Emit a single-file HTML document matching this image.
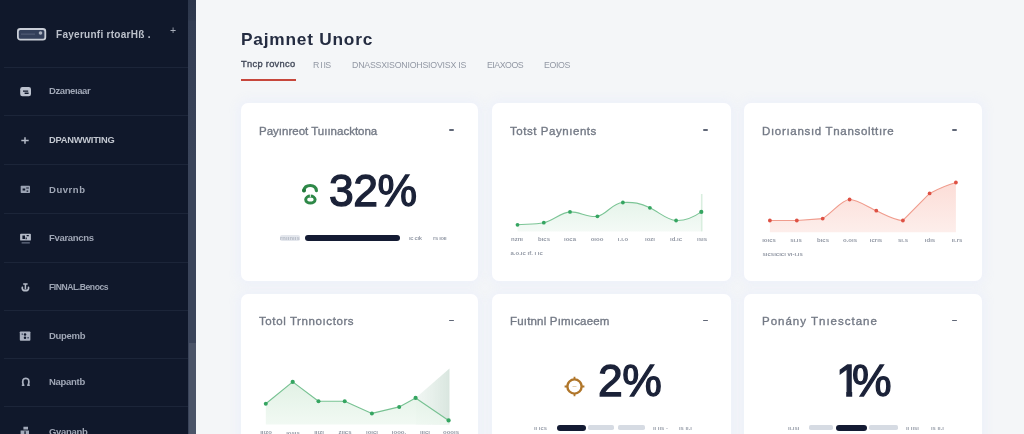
<!DOCTYPE html>
<html lang="en">
<head>
<meta charset="utf-8">
<title>Payment Dashboard</title>
<style>
*{box-sizing:border-box;margin:0;padding:0}
html,body{width:1024px;height:434px;overflow:hidden}
body{position:relative;background:#f4f6f8;font-family:"Liberation Sans",sans-serif;color:#1a2238}
.abs{position:absolute;white-space:nowrap;line-height:1}
/* sidebar */
#side{position:absolute;left:0;top:0;width:188px;height:434px;background:#10182b}
#rail{position:absolute;left:188px;top:0;width:8px;height:434px;background:linear-gradient(#2c364b 0,#2f394e 20px,#333d53 21px,#3a445a 160px,#3a445a 100%)}
#thumb{position:absolute;left:189px;top:343px;width:7px;height:91px;background:#4b5468}
.div{position:absolute;left:4px;width:184px;height:1px;background:#1c2539}
.nav{position:absolute;left:48.5px;font-size:9.5px;font-weight:700;color:#9fa6b5;white-space:nowrap;line-height:12px;height:12px}
.ico{position:absolute}
/* main */
#title{left:240.5px;top:31.3px;font-size:17.3px;font-weight:700;color:#242c41;letter-spacing:.78px}
.tab{top:60.7px;font-size:8.8px;color:#9298a4}
.tab.on{top:60.4px;font-size:9.3px;color:#434a5a;-webkit-text-stroke:.35px #434a5a;letter-spacing:.3px}
#uline{position:absolute;left:241px;top:79px;width:55px;height:2.4px;background:#c7473c}
.card{position:absolute;background:#fff;border-radius:7px;box-shadow:0 0 8px 4px rgba(237,241,249,.9)}
.ct{position:absolute;left:18px;top:21px;font-size:11.5px;color:#737985;white-space:nowrap;line-height:14px;-webkit-text-stroke:.35px #737985}
.dash{position:absolute;top:26px;width:4.4px;height:1.7px;background:#606777;border-radius:1px;margin-left:.3px}
.big{position:absolute;font-size:44.5px;color:#1b2238;line-height:1;white-space:nowrap;-webkit-text-stroke:1.3px #1b2238;letter-spacing:-.5px}
.bar{position:absolute;height:6.3px;border-radius:4px;background:#141b33}
.gbar{position:absolute;height:4.6px;border-radius:1.8px;background:#d6dbe3}
.tiny{position:absolute;font-size:5.8px;font-weight:700;filter:blur(.3px);color:#989eaa;white-space:nowrap;line-height:6px}
svg{position:absolute;left:0;top:0;overflow:visible}
.abs,.nav,.ct,.big,.tiny,svg{will-change:transform}
svg text{font-family:"Liberation Sans",sans-serif}
</style>
</head>
<body>
<!-- SIDEBAR -->
<div id="side">
  <svg class="ico" style="left:16px;top:27px" width="32" height="15" viewBox="0 0 32 15">
    <rect x="1.9" y="2" width="27.4" height="10.6" rx="2.4" fill="#333f5a" stroke="#c9ced7" stroke-width="1.8"/>
    <circle cx="24.5" cy="6" r="1.8" fill="#aab1bf"/>
    <rect x="5" y="6.6" width="14" height="1" fill="#56607a"/>
  </svg>
  <div class="abs" style="left:56px;top:28.5px;font-size:10px;font-weight:700;color:#bcc1cb;line-height:12px;letter-spacing:.28px">Fayerunfi rtoarHß .</div>
  <div class="abs" style="left:169.6px;top:24.2px;font-size:10.5px;color:#a9afbc;line-height:12px">+</div>

  <div class="div" style="top:67px"></div>
  <div class="div" style="top:115px"></div>
  <div class="div" style="top:164px"></div>
  <div class="div" style="top:213px"></div>
  <div class="div" style="top:262px"></div>
  <div class="div" style="top:310px"></div>
  <div class="div" style="top:358px"></div>
  <div class="div" style="top:406px"></div>

  <div class="nav" style="top:85px;letter-spacing:-.4px">Dzaneıaar</div>
  <div class="nav" style="top:133.6px;color:#c3c8d1;font-size:9.3px;letter-spacing:-.23px">DPANWWITING</div>
  <div class="nav" style="top:183.8px;letter-spacing:.55px">Duvrnb</div>
  <div class="nav" style="top:231.6px;letter-spacing:-.3px">Fvarancns</div>
  <div class="nav" style="top:281px;letter-spacing:-.45px;font-size:8.6px">FINNAL.Benocs</div>
  <div class="nav" style="top:330px;letter-spacing:-.3px">Dupemb</div>
  <div class="nav" style="top:375.8px;letter-spacing:-.3px">Napantb</div>
  <div class="nav" style="top:425.6px;letter-spacing:-.3px">Gvananb</div>

  <!-- nav icons -->
  <svg class="ico" style="left:0;top:0" width="188" height="434" viewBox="0 0 188 434">
    <!-- 1 -->
    <rect x="20.2" y="87" width="10.8" height="9.3" rx="2.2" fill="#bcc2ce"/>
    <path d="M23 90.4h5.2v1.3H23zM24.6 92.6h4v1.4h-4z" fill="#10182b"/>
    <!-- 2 -->
    <path d="M25 137.3v6.4M21.3 140.5h7.4" stroke="#b4bac7" stroke-width="1.5" fill="none"/>
    <!-- 3 -->
    <rect x="20.7" y="185.7" width="9.3" height="7.3" rx="0.7" fill="#9aa2b3"/>
    <path d="M22.6 188.6h2.6v2h-2.6zM26.2 187.4h2.6v1h-2.6zM26.6 190.6h1.6v1.2h-1.6z" fill="#10182b"/>
    <!-- 4 -->
    <rect x="20.1" y="233.7" width="10.8" height="6.9" rx="0.9" fill="#b4bac7"/>
    <path d="M22.4 235.6h2.6v3.4h-2.6zM26.6 235h2.2v1.3h-2.2zM25.6 237.4h1.2v1.8h-1.2z" fill="#10182b"/>
    <rect x="21.6" y="242.4" width="8.2" height="1" fill="#7d869b"/>
    <!-- 5 -->
    <path d="M23.2 284h4.4M25.4 284v5.6" stroke="#b4bac7" stroke-width="1.5" fill="none"/>
    <path d="M22.3 287.4c-.5 2.6 1.2 3.3 3.1 3.3s3.6-.7 3.1-3.3" stroke="#b4bac7" stroke-width="1.7" fill="none" stroke-linecap="round"/>
    <!-- 6 -->
    <rect x="19.8" y="331.4" width="10.6" height="9.3" rx="0.9" fill="#aab1c0"/>
    <circle cx="25" cy="334.4" r="1.25" fill="#10182b"/><circle cx="25" cy="337.7" r="1.25" fill="#10182b"/>
    <path d="M21.6 333.4h1.4v1.4h-1.4zM27.4 337h1.4v1.4h-1.4z" fill="#39435a"/>
    <!-- 7 -->
    <path d="M23.3 385.2c-1.6-5.8.2-6.9 2.5-6.9s4.1 1.1 2.5 6.9" stroke="#aab1c0" stroke-width="1.7" fill="none"/>
    <path d="M21.8 384.6h2.6v1.4h-2.6zM27.2 384.6h2.6v1.4h-2.6z" fill="#aab1c0"/>
    <!-- 8 -->
    <path d="M23.4 426.8h4.6v2.6h-4.6zM20.6 430.4h8.4v4h-8.4z" fill="#a3aaba"/>
    <path d="M24.4 431.2h1.3v3h-1.3z" fill="#10182b"/>
  </svg>
</div>
<div id="rail"></div><div id="thumb"></div>

<!-- HEADER -->
<div id="title" class="abs">Pajmnet Unorc</div>
<div class="abs tab on" style="left:241px">Tncp rovnco</div>
<div class="abs tab" style="left:313px;letter-spacing:-.8px">R I IS</div>
<div class="abs tab" style="left:352px;letter-spacing:-.22px">DNASSXISONIOHSIOVISX IS</div>
<div class="abs tab" style="left:487px;letter-spacing:-.5px">EIAXOOS</div>
<div class="abs tab" style="left:543.5px;letter-spacing:-.35px">EOIOS</div>
<div id="uline"></div>

<!-- CARDS -->
<div class="card" id="c1" style="left:241px;top:103px;width:237px;height:178px">
  <div class="ct">Payınreot Tuıınacktona</div><div class="dash" style="left:208px"></div>
</div>
<div class="card" id="c2" style="left:492px;top:103px;width:239px;height:178px">
  <div class="ct" style="letter-spacing:.55px">Totst Paynıents</div><div class="dash" style="left:211px"></div>
</div>
<div class="card" id="c3" style="left:744px;top:103px;width:238px;height:178px">
  <div class="ct" style="letter-spacing:.68px">Dıorıansıd Tnansolttıre</div><div class="dash" style="left:208px"></div>
</div>
<div class="card" id="c4" style="left:241px;top:293.5px;width:237px;height:160px">
  <div class="ct" style="top:20.5px;letter-spacing:.6px">Totol Trnnoıctors</div><div class="dash" style="left:208px"></div>
</div>
<div class="card" id="c5" style="left:492px;top:293.5px;width:239px;height:160px">
  <div class="ct" style="top:20.5px;letter-spacing:.18px">Fuıtnnl Pımıcaeem</div><div class="dash" style="left:211px"></div>
</div>
<div class="card" id="c6" style="left:744px;top:293.5px;width:238px;height:160px">
  <div class="ct" style="top:20.5px;letter-spacing:1px">Ponány Tnıesctane</div><div class="dash" style="left:208px"></div>
</div>

<!-- card 1 content -->
<svg width="1024" height="434" viewBox="0 0 1024 434">
  <!-- recycle-ish icon -->
  <g fill="none" stroke="#2e8848" stroke-linecap="round">
    <path d="M303.9 190.6C304.5 186.6 307.5 185.5 310.2 185.5C313.2 185.5 316 187 316.4 190.6" stroke-width="3.2"/>
    <ellipse cx="310.4" cy="199.6" rx="4.7" ry="3.5" stroke-width="3"/>
  </g>
  <circle cx="304" cy="190.6" r="2" fill="#237a3c"/>
  <path d="M310.4 194v3" stroke="#fff" stroke-width="1.1" opacity=".8"/>
</svg>
<div class="big" style="left:328.5px;top:168.5px">32%</div>
<div class="tiny" style="left:280px;top:235px;background:#e4e7ed;color:#b4bac5;border-radius:2px;letter-spacing:.1px">rnıınııs</div>
<div class="bar" style="left:305px;top:234.5px;width:95px"></div>
<div class="tiny" style="left:409px;top:235px;letter-spacing:-.3px">ıc cık</div>
<div class="tiny" style="left:433px;top:235px;letter-spacing:-.3px">rs ıoıı</div>

<!-- charts -->
<svg width="1024" height="434" viewBox="0 0 1024 434">
  <defs>
    <linearGradient id="gg" x1="0" y1="0" x2="0" y2="1"><stop offset="0" stop-color="#e6f4ea"/><stop offset="1" stop-color="#f4faf6"/></linearGradient>
    <linearGradient id="rg" x1="0" y1="0" x2="0" y2="1"><stop offset="0" stop-color="#fcddd7"/><stop offset="1" stop-color="#fdeeeb"/></linearGradient>
    <linearGradient id="g4" x1="0" y1="0" x2="0" y2="1"><stop offset="0" stop-color="#dcefe0"/><stop offset="1" stop-color="#eff8f1"/></linearGradient>
    <linearGradient id="tri" x1="0" y1="0" x2="1" y2="0"><stop offset="0" stop-color="#e6f0ea" stop-opacity=".55"/><stop offset="1" stop-color="#d9e6df"/></linearGradient>
  </defs>
  <!-- card 2 green -->
  <path id="a2" d="M517.5 224.8 C526 224,535 224.5,543.8 222.7 S561 212.5,570 211.9 S588 218,597.4 216.3 S612 203,622.9 202.5 S640 203,649.9 207.8 S667 220,676.1 220.5 S694 217,701.3 211.9 L701.3 231.4 L517.5 231.4Z" fill="url(#gg)"/>
  <path d="M517.5 224.8 C526 224,535 224.5,543.8 222.7 S561 212.5,570 211.9 S588 218,597.4 216.3 S612 203,622.9 202.5 S640 203,649.9 207.8 S667 220,676.1 220.5 S694 217,701.3 211.9" fill="none" stroke="#7cc596" stroke-width="1.1"/>
  <path d="M701.7 194v37.4" stroke="#d9eedf" stroke-width="1.6"/>
  <g fill="#35a561"><circle cx="517.5" cy="224.8" r="1.9"/><circle cx="543.8" cy="222.7" r="1.9"/><circle cx="570" cy="211.9" r="1.9"/><circle cx="597.4" cy="216.3" r="1.9"/><circle cx="622.9" cy="202.5" r="1.9"/><circle cx="649.9" cy="207.8" r="1.9"/><circle cx="676.1" cy="220.5" r="1.9"/><circle cx="701.3" cy="211.9" r="2.1"/></g>
  <g font-size="6" font-weight="700" fill="#9399a5" style="filter:blur(.3px)" text-anchor="middle">
    <text x="517" y="240.5">nznı</text><text x="544" y="240.5">bıcs</text><text x="570" y="240.5">ıoca</text><text x="597" y="240.5">oıoo</text><text x="623" y="240.5">ı.ı.o</text><text x="650" y="240.5">ıozı</text><text x="676" y="240.5">ıd.ıc</text><text x="702" y="240.5">ısıs</text>
  </g>
  <text x="510.5" y="255" font-size="6" font-weight="700" fill="#9399a5" style="filter:blur(.3px)">a.o.ıc ıf. ı ıc</text>

  <!-- card 3 red -->
  <path d="M769.9 220.5 L796.8 220.5 L822.7 218.6 C833 212,842 199.5,849.6 199.5 S868 207,876.3 210.7 S895 220.5,902.9 220.5 L929.6 193.4 C938 189,947 185,955.9 182.5 L955.9 232.3 L769.9 232.3Z" fill="url(#rg)"/>
  <path d="M769.9 220.5 L796.8 220.5 L822.7 218.6 C833 212,842 199.5,849.6 199.5 S868 207,876.3 210.7 S895 220.5,902.9 220.5 L929.6 193.4 C938 189,947 185,955.9 182.5" fill="none" stroke="#f09c8d" stroke-width="1.15"/>
  <g fill="#de5144"><circle cx="769.9" cy="220.5" r="1.9"/><circle cx="796.8" cy="220.5" r="1.9"/><circle cx="822.7" cy="218.6" r="1.9"/><circle cx="849.6" cy="199.5" r="1.9"/><circle cx="876.3" cy="210.7" r="1.9"/><circle cx="902.9" cy="220.5" r="1.9"/><circle cx="929.6" cy="193.4" r="1.9"/><circle cx="955.9" cy="182.5" r="1.9"/></g>
  <g font-size="6" font-weight="700" fill="#9399a5" style="filter:blur(.3px)" text-anchor="middle">
    <text x="769" y="241.5">ıoıcs</text><text x="796" y="241.5">sı.ıs</text><text x="823" y="241.5">bıcs</text><text x="850" y="241.5">o.oıs</text><text x="876" y="241.5">ıcrıs</text><text x="903" y="241.5">sı.s</text><text x="930" y="241.5">ıdıs</text><text x="957" y="241.5">ıı.rs</text>
  </g>
  <text x="762.5" y="256" font-size="6" font-weight="700" fill="#9399a5" style="filter:blur(.3px)">sıcsıcıcı vı-ı.ıs</text>

  <!-- card 4 green -->
  <path d="M415.6 397.9 L449.5 368.6 L449.5 424.4 L415.6 424.4Z" fill="url(#tri)"/>
  <path d="M265.8 403.8 L292.7 381.9 L318.5 401.2 L344.7 401.2 L371.9 413.4 L399.2 406.9 L415.6 397.9 L448.6 420.4 L448.6 424.4 L265.8 424.4Z" fill="url(#g4)" fill-opacity=".85"/>
  <path d="M265.8 403.8 L292.7 381.9 L318.5 401.2 L344.7 401.2 L371.9 413.4 L399.2 406.9 L415.6 397.9 L448.6 420.4" fill="none" stroke="#78c293" stroke-width="1.15" stroke-linejoin="round"/>
  <g fill="#35a561"><circle cx="265.8" cy="403.8" r="2"/><circle cx="292.7" cy="381.9" r="2.1"/><circle cx="318.5" cy="401.2" r="2"/><circle cx="344.7" cy="401.2" r="2"/><circle cx="371.9" cy="413.4" r="2"/><circle cx="399.2" cy="406.9" r="2"/><circle cx="415.6" cy="397.9" r="2.1"/><circle cx="448.6" cy="420.4" r="2.1"/></g>
  <g font-size="6" font-weight="700" fill="#9399a5" style="filter:blur(.3px)" text-anchor="middle">
    <text x="266" y="434">ııızo</text><text x="293" y="434.5">ıosıs</text><text x="319" y="433.5">ııızı</text><text x="345" y="433.5">zııcs</text><text x="372" y="434">ıoıcı</text><text x="399" y="434">ıooo.</text><text x="425" y="434">ıııcı</text><text x="451" y="434">oooıs</text>
  </g>

  <!-- card 5 ring icon -->
  <g stroke="#b0762a" fill="none"><circle cx="574.5" cy="386.5" r="7.1" stroke-width="2.4"/><path d="M574.5 376.8v2.6M574.5 393.6v2.6M564.6 386.5h2.6M581.8 386.5h2.6" stroke-width="1.8"/><path d="M572.5 386.5h4" stroke="#e3cfb0" stroke-width="1"/></g>
</svg>

<!-- card 5 -->
<div class="big" style="left:597.5px;top:358.5px">2%</div>
<div class="tiny" style="left:533.5px;top:425px">ıı ıcs</div>
<div class="bar" style="left:557px;top:424.5px;width:28.5px"></div>
<div class="gbar" style="left:587.7px;top:425.3px;width:26.8px"></div>
<div class="gbar" style="left:617.7px;top:425.3px;width:27.2px"></div>
<div class="tiny" style="left:652.6px;top:425px">ıı ııs  -</div>
<div class="tiny" style="left:678.7px;top:425px">ıs ıı.ı</div>

<!-- card 6 -->
<div class="big" style="left:836px;top:358.5px;letter-spacing:normal;clip-path:polygon(0 0,100% 0,100% 33px,16.2px 33px,16.2px 100%,10.2px 100%,10.2px 33px,0 33px)">1</div><div class="big" style="left:852.4px;top:358.5px;letter-spacing:normal">%</div>
<div class="tiny" style="left:787.7px;top:425px">ıı.ısı</div>
<div class="gbar" style="left:809px;top:425.3px;width:24px"></div>
<div class="bar" style="left:835.8px;top:424.5px;width:31px"></div>
<div class="gbar" style="left:869px;top:425.3px;width:29.3px"></div>
<div class="tiny" style="left:906px;top:425px">ıı ıısı</div>
<div class="tiny" style="left:931px;top:425px">ıs ıı.ı</div>
</body>
</html>
